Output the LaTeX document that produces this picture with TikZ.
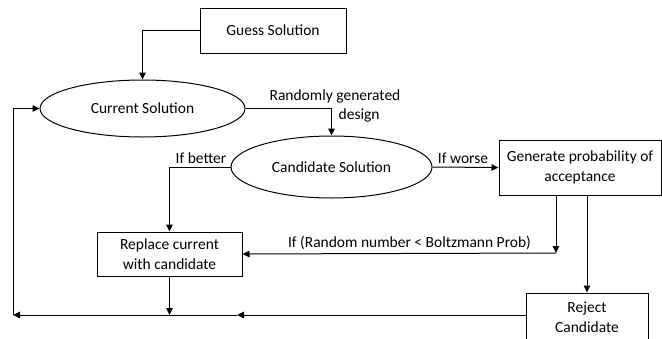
\documentclass[tikz,border=0pt]{standalone}
\usepackage{fontspec}
\setmainfont{Carlito}
\usetikzlibrary{shapes.geometric,arrows.meta}
\begin{document}
\begin{tikzpicture}[x=1pt,y=-1pt,
  every node/.style={font=\fontsize{15.5}{19.5}\selectfont, inner sep=0pt},
  box/.style={draw, line width=1pt, rectangle, align=center},
  oval/.style={draw, line width=1pt, ellipse},
  conn/.style={line width=1pt},
  arr/.style={conn, -{Triangle[length=7pt,width=6.5pt]}}]
\useasboundingbox (0,0) rectangle (662,338);
\node[box, minimum width=146pt, minimum height=45pt] (guess) at (273,30.5) {Guess Solution};
\node[oval, minimum width=205pt, minimum height=57pt] (cur) at (142.5,108.5) {Current Solution};
\node[oval, minimum width=201pt, minimum height=62pt] (cand) at (331.5,167) {Candidate Solution};
\node[box, minimum width=162pt, minimum height=55pt] (gen) at (580,167.5) {Generate probability of\\acceptance};
\node[box, minimum width=145pt, minimum height=44pt] (rep) at (169.5,254) {Replace current\\with candidate};
\node[box, minimum width=122pt, minimum height=48pt] (rej) at (587,317) {Reject\\Candidate};
% labels
\node (lr) at (335,96) {Randomly generated};
\node[anchor=west] (ld) at (338.5,115) {design};
\node (lw) at (463,158) {If worse};
\node (lb) at (201,158) {If better};
\node (lp) at (409.5,243) {If (Random number < Boltzmann Prob)};
% coordinates
\coordinate (gb) at (556,253);
\coordinate (bm) at (237,315);
\coordinate (bl) at (13,315);
\coordinate (tl) at (13,108.5);
% connectors
\draw[arr] (guess.west) -| (cur.north);
\draw[arr] (cur.east) -| (cand.north);
\draw[arr] (cand.east) -- (gen.west);
\draw[arr] (cand.west) -| (rep.north);
\draw[arr] (gen.south -| gb) -- (gb);
\draw[arr] (gb) -- (rep.east);
\draw[arr] (gen.south -| rej.north) -- (rej.north);
\draw[arr] (rej.west |- bm) -- (bm);
\draw[arr] (bm) -- (bl);
\draw[arr] (rep.south) -- (rep.south |- bm);
\draw[arr] (bl) -- (tl) -- (cur.west);
\end{tikzpicture}
\end{document}
